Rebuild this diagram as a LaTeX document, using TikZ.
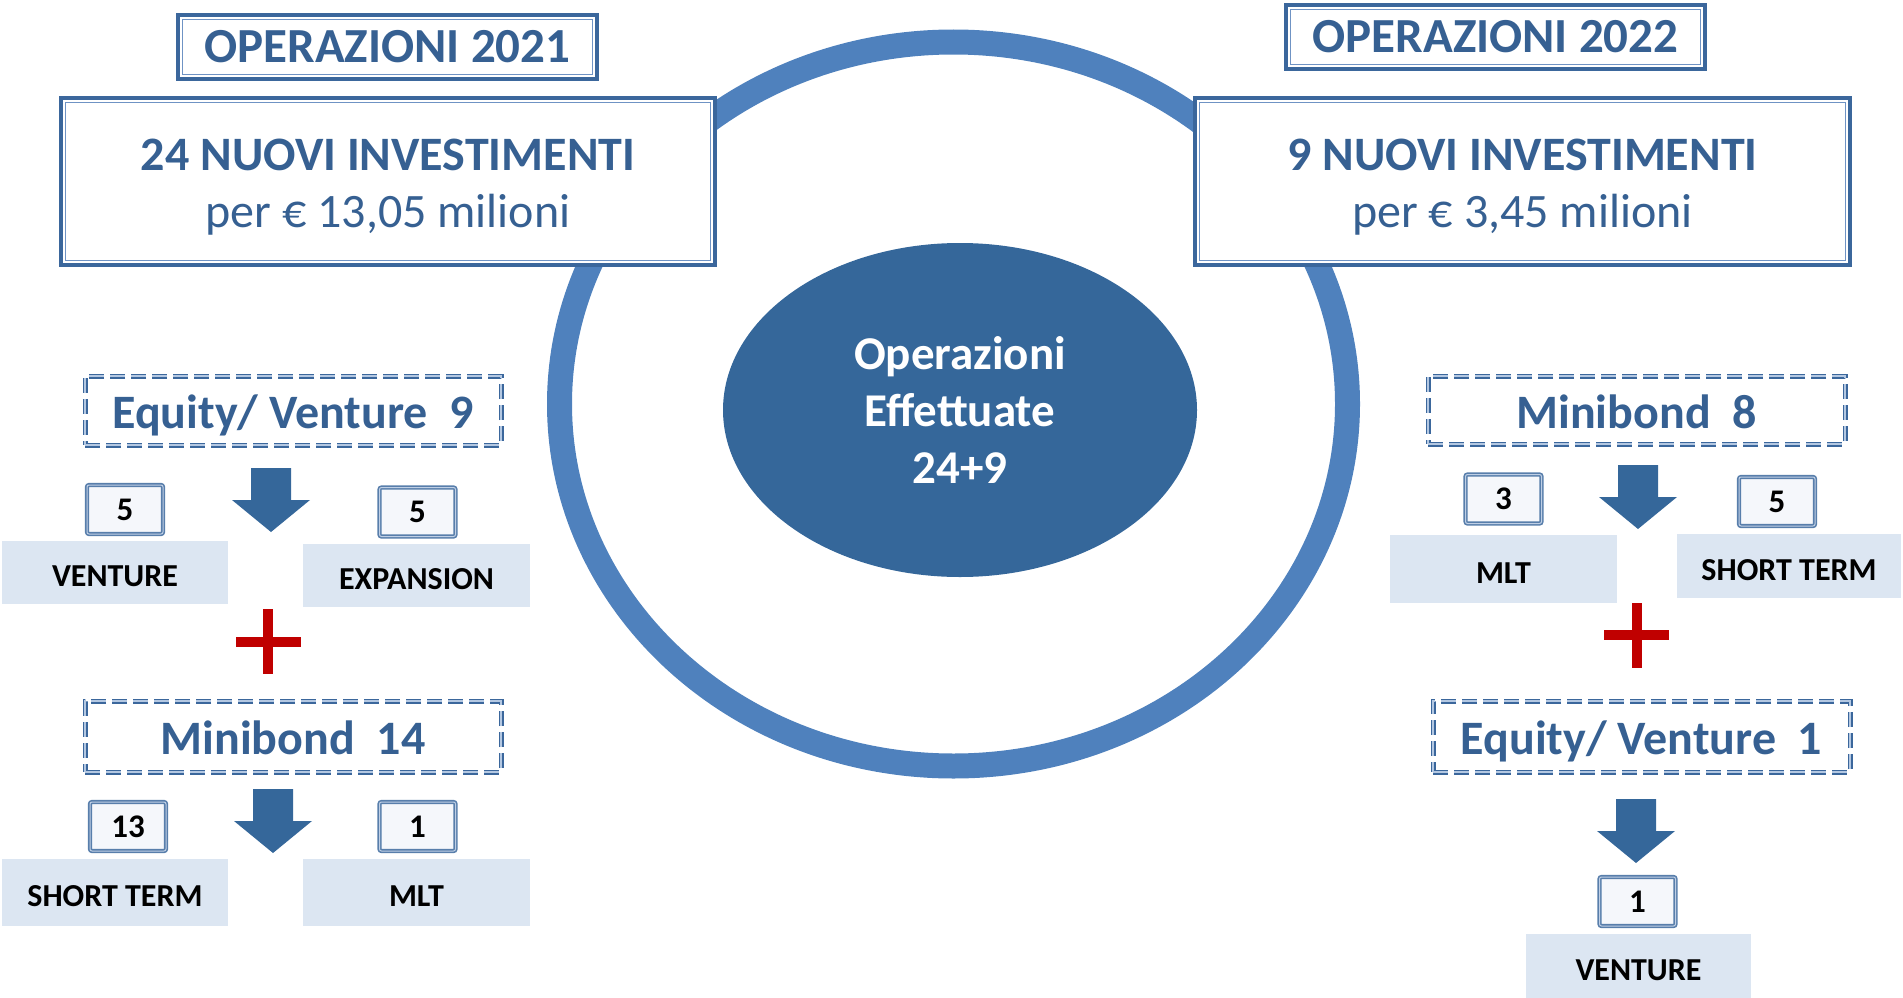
\documentclass[tikz,border=0pt]{standalone}
\usepackage{fontspec}
\setmainfont{Carlito}
\usetikzlibrary{shapes.geometric}
\definecolor{tblue}{HTML}{366092}
\definecolor{ringc}{HTML}{4F81BD}
\definecolor{corec}{HTML}{35679A}
\definecolor{bordc}{HTML}{3B679C}
\definecolor{innerc}{HTML}{6F93C4}
\definecolor{labfill}{HTML}{DCE6F2}
\definecolor{numfill}{HTML}{F5F7FB}
\definecolor{plusred}{HTML}{C00000}
\definecolor{dashmid}{HTML}{B4C8E2}
\begin{document}
\begin{tikzpicture}[x=1pt,y=-1pt,
  ring/.style={draw=ringc,line width=25pt},
  core/.style={ellipse,fill=corec,inner sep=0pt,text=white,align=center,
    font=\fontsize{47}{57}\selectfont\bfseries},
  framed/.style={draw=bordc,line width=3.5pt,fill=white,inner sep=0pt,
    path picture={\draw[innerc,line width=1.2pt]
      ([shift={(4.5pt,-4.5pt)}]path picture bounding box.north west) rectangle
      ([shift={(-4.5pt,4.5pt)}]path picture bounding box.south east);}},
  titlebox/.style={framed,text=tblue,font=\fontsize{49}{58}\selectfont\bfseries},
  bigbox/.style={framed},
  bigtext/.style={text=tblue,align=center,inner sep=0pt,font=\fontsize{48}{57}\selectfont},
  dbox/.style={draw=bordc,line width=1.8pt,double=dashmid,double distance=1.4pt,
    dash pattern=on 15pt off 6pt,fill=white,inner sep=0pt,text=tblue,
    text height=42pt,text depth=6pt,
    font=\fontsize{48}{57}\selectfont\bfseries},
  numbox/.style={draw=bordc!85,line width=1.6pt,double=numfill!60!innerc,double distance=1pt,
    rounded corners=2pt,fill=numfill,inner sep=0pt,minimum width=76pt,minimum height=49pt,
    font=\fontsize{33}{40}\selectfont\bfseries},
  labbox/.style={fill=labfill,inner sep=0pt,text height=28pt,text depth=0pt,
    font=\fontsize{32}{38}\selectfont\bfseries},
  barrow/.pic={\fill[corec] (-20,0) -- (20,0) -- (20,32) -- (39,32) -- (0,64)
    -- (-39,32) -- (-20,32) -- cycle;},
  plus/.pic={\fill[plusred] (-5,-32.5) rectangle (5,32.5);
    \fill[plusred] (-32.5,-5) rectangle (32.5,5);}
]
\useasboundingbox (0,0) rectangle (1903,998);
% ring and core
\draw[ring] (953.5,404) ellipse [x radius=394, y radius=362];
\node[core,minimum width=474pt,minimum height=334pt] (core) at (960,410)
  {Operazioni\\Effettuate\\24+9};
% titles
\node[titlebox,minimum width=419pt,minimum height=64pt] (t21) at (387.5,47) {OPERAZIONI 2021};
\node[titlebox,minimum width=419pt,minimum height=64pt] (t22) at (1495.5,37) {OPERAZIONI 2022};
\node[bigbox,minimum width=654pt,minimum height=167pt] (b21) at (388,181.5) {};
\node[bigtext] (b21t) at ([yshift=-6pt]b21.center)
  {{\bfseries 24 NUOVI INVESTIMENTI}\\per € 13,05 milioni};
\node[bigbox,minimum width=655pt,minimum height=167pt] (b22) at (1522.5,181.5) {};
\node[bigtext] (b22t) at ([yshift=-6pt]b22.center)
  {{\bfseries 9 NUOVI INVESTIMENTI}\\per € 3,45 milioni};
% left side
\node[dbox,minimum width=416pt,minimum height=69pt] (ev9) at (293,410.5) {Equity/ Venture~~9};
\coordinate (a1) at (271,468);
\pic at (a1) {barrow};
\node[numbox] (n5a) at (125,509.5) {5};
\node[numbox] (n5b) at (417.5,512) {5};
\node[labbox,minimum width=226pt,minimum height=63pt] (lven) at (115,572.5) {VENTURE};
\node[labbox,minimum width=227pt,minimum height=63pt] (lexp) at (416.5,575.5) {EXPANSION};
\coordinate (p1) at (268,641.5);
\pic at (p1) {plus};
\node[dbox,minimum width=416pt,minimum height=71pt] (mb14) at (293,736.5) {Minibond~~14};
\coordinate (a2) at (273,789);
\pic at (a2) {barrow};
\node[numbox] (n13) at (128,826.5) {13};
\node[numbox] (n1a) at (417.5,826.5) {1};
\node[labbox,minimum width=226pt,minimum height=67pt] (lst) at (115,892.5) {SHORT TERM};
\node[labbox,minimum width=227pt,minimum height=67pt] (lmlt) at (416.5,892.5) {MLT};
% right side
\node[dbox,minimum width=417pt,minimum height=68pt] (mb8) at (1636.5,410) {Minibond~~8};
\coordinate (a3) at (1638,465);
\pic at (a3) {barrow};
\node[numbox] (n3) at (1503.5,499) {3};
\node[numbox] (n5c) at (1777,501.5) {5};
\node[labbox,minimum width=227pt,minimum height=68pt] (rmlt) at (1503.5,569) {MLT};
\node[labbox,minimum width=224pt,minimum height=64pt] (rst) at (1789,566) {SHORT TERM};
\coordinate (p2) at (1636.5,635);
\pic at (p2) {plus};
\node[dbox,minimum width=417pt,minimum height=71pt] (ev1) at (1641.5,736.5) {Equity/ Venture~~1};
\coordinate (a4) at (1636,799);
\pic at (a4) {barrow};
\node[numbox] (n1b) at (1637.5,901.5) {1};
\node[labbox,minimum width=225pt,minimum height=64pt] (rven) at (1638.5,966) {VENTURE};
\end{tikzpicture}
\end{document}
